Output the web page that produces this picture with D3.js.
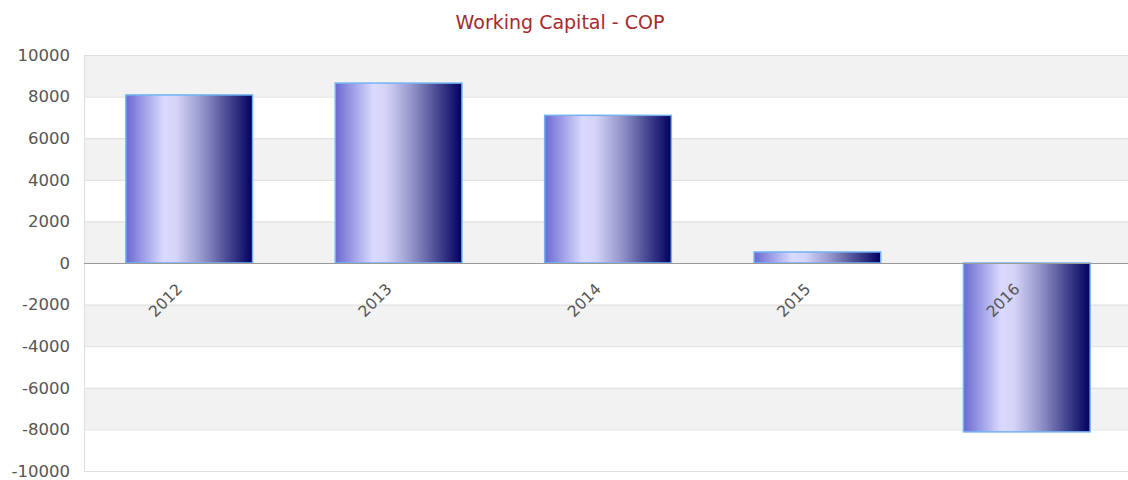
<!DOCTYPE html>
<meta charset="utf-8">
<style>
  body { margin: 0; background: #fff; }
  text { font-family: "DejaVu Sans", sans-serif; }
  .grid line { stroke: #dedede; }
</style>
<body>
<script src="https://d3js.org/d3.v7.min.js"></script>
<script>
  var years = ["2012", "2013", "2014", "2015", "2016"];
  var values = [8080, 8650, 7100, 530, -8120];
  var yTicks = [10000, 8000, 6000, 4000, 2000, 0, -2000, -4000, -6000, -8000, -10000];

  var width = 1128, height = 480;
  var margin = {top: 55, right: 0, bottom: 9, left: 84};

  var svg = d3.select("body").append("svg")
      .attr("width", width)
      .attr("height", height);

  var x = d3.scaleBand()
      .domain(years)
      .range([margin.left, margin.left + 1048])
      .paddingInner(0.395)
      .paddingOuter(0.2);

  var y = d3.scaleLinear()
      .domain([-10000, 10000])
      .range([height - margin.bottom, margin.top]);

  var defs = svg.append("defs");
  var grad = defs.append("linearGradient")
      .attr("id", "barGrad")
      .attr("x1", "0%").attr("x2", "100%")
      .attr("y1", "0%").attr("y2", "0%");
  [[0, "#6a6ad2"], [0.3, "#dadaff"], [0.4, "#d4d4f8"], [0.6, "#9696cc"], [0.8, "#4a4a94"], [1, "#000060"]]
    .forEach(function(s) {
      grad.append("stop").attr("offset", s[0]).attr("stop-color", s[1]);
    });

  // alternating bands
  var bands = d3.pairs(yTicks);
  svg.append("g").selectAll("rect")
    .data(bands)
    .enter().append("rect")
      .attr("x", margin.left)
      .attr("y", function(d) { return y(d[0]); })
      .attr("width", width - margin.left)
      .attr("height", function(d) { return y(d[1]) - y(d[0]); })
      .attr("fill", function(d, i) { return i % 2 == 0 ? "#f2f2f2" : "#ffffff"; });

  svg.append("g")
      .attr("class", "grid")
    .selectAll("line")
    .data(yTicks)
    .enter().append("line")
      .attr("x1", margin.left)
      .attr("x2", width)
      .attr("y1", function(d) { return y(d) + 0.5; })
      .attr("y2", function(d) { return y(d) + 0.5; });

  svg.append("line")
      .attr("x1", margin.left + 0.5).attr("x2", margin.left + 0.5)
      .attr("y1", y(10000)).attr("y2", y(-10000))
      .attr("stroke", "#dedede");

  // y axis labels
  svg.append("g").selectAll("text")
    .data(yTicks)
    .enter().append("text")
      .attr("x", 70)
      .attr("y", function(d) { return y(d); })
      .attr("dy", "0.35em")
      .attr("text-anchor", "end")
      .attr("font-size", 16.5)
      .attr("fill", "#555")
      .text(function(d) { return d; });

  // bars
  svg.append("g").selectAll("rect")
    .data(values)
    .enter().append("rect")
      .attr("x", function(d, i) { return x(years[i]); })
      .attr("y", function(d) { return y(Math.max(0, d)); })
      .attr("width", x.bandwidth())
      .attr("height", function(d) { return Math.abs(y(d) - y(0)); })
      .attr("fill", "url(#barGrad)")
      .attr("stroke", "#72b2f2")
      .attr("stroke-width", 1.5);

  // zero line
  svg.append("line")
      .attr("x1", margin.left).attr("x2", width)
      .attr("y1", y(0) + 0.5).attr("y2", y(0) + 0.5)
      .attr("stroke", "#999")
      .attr("stroke-width", 1.2);

  // x labels
  svg.append("g").selectAll("text")
    .data(years)
    .enter().append("text")
      .attr("transform", function(d) {
        return "translate(" + (x(d) + x.bandwidth() / 2 - 6) + "," + (y(0) + 27) + ") rotate(-45)";
      })
      .attr("text-anchor", "end")
      .attr("font-size", 15.5)
      .attr("fill", "#555")
      .text(function(d) { return d; });

  svg.append("text")
      .attr("x", 560)
      .attr("y", 29)
      .attr("text-anchor", "middle")
      .attr("font-size", 19)
      .attr("fill", "#a52a2a")
      .text("Working Capital - COP");
</script>
</body>
